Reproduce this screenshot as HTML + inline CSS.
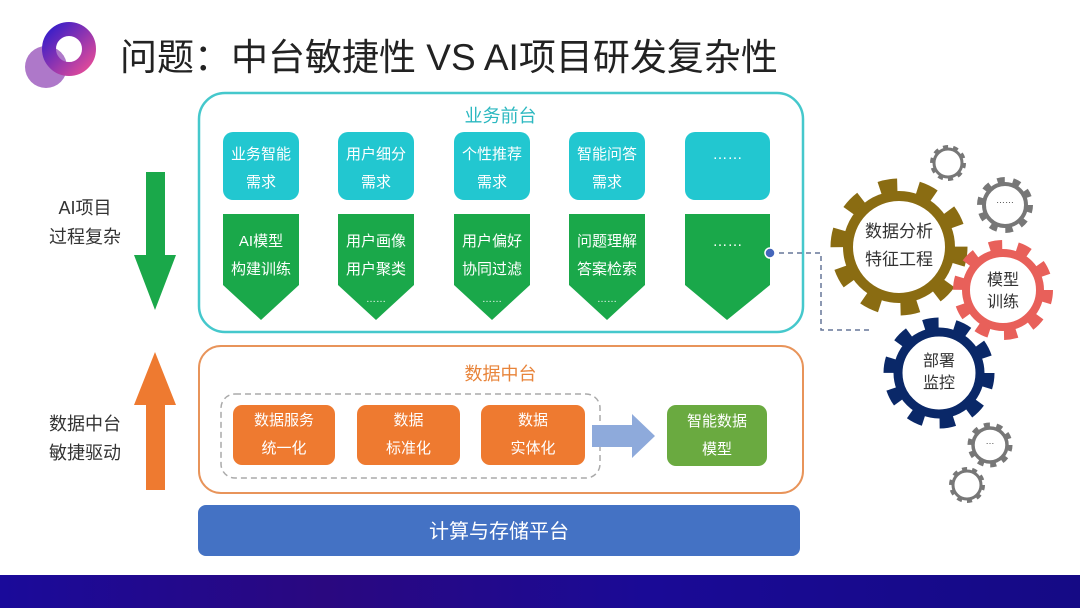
<!DOCTYPE html>
<html><head><meta charset="utf-8"><style>
body{margin:0;width:1080px;height:608px;overflow:hidden;background:#fff;font-family:"Liberation Sans","Noto Sans CJK SC",sans-serif;position:relative}
.a{position:absolute}
.t{position:absolute;text-align:center;color:#fff;font-size:15px;line-height:28px}
</style></head><body>
<svg class="a" style="left:0;top:0" width="1080" height="608">
<defs>
<linearGradient id="lg" x1="0" y1="0" x2="1" y2="1"><stop offset="0" stop-color="#3a1ec8"/><stop offset="1" stop-color="#e04a9a"/></linearGradient>
<linearGradient id="bb" x1="0" x2="1"><stop offset="0" stop-color="#1a0a9a"/><stop offset="0.3" stop-color="#2a0880"/><stop offset="0.6" stop-color="#1a0a96"/><stop offset="1" stop-color="#150a85"/></linearGradient>
</defs>
<circle cx="46" cy="67" r="21" fill="#a060c0" opacity="0.85"/>
<circle cx="69" cy="49" r="20" fill="none" stroke="url(#lg)" stroke-width="14"/>
<rect x="0" y="575" width="1080" height="33" fill="url(#bb)"/>
<rect x="199" y="93" width="604" height="239" rx="26" fill="#fff" stroke="#45c8cc" stroke-width="2.5"/>
<rect x="199" y="346" width="604" height="147" rx="22" fill="#fff" stroke="#e8945a" stroke-width="2"/>
<rect x="221" y="394" width="379" height="84" rx="14" fill="none" stroke="#aaa" stroke-width="1.5" stroke-dasharray="6,4"/>
<rect x="198" y="505" width="602" height="51" rx="8" fill="#4472c4"/>
<g fill="#22c7d0">
<rect x="223" y="132" width="76" height="68" rx="10"/><rect x="338" y="132" width="76" height="68" rx="10"/>
<rect x="454" y="132" width="76" height="68" rx="10"/><rect x="569" y="132" width="76" height="68" rx="10"/>
<rect x="685" y="132" width="85" height="68" rx="10"/></g>
<g fill="#1aa84a">
<polygon points="223,214 299,214 299,285 261,320 223,285"/>
<polygon points="338,214 414,214 414,285 376,320 338,285"/>
<polygon points="454,214 530,214 530,285 492,320 454,285"/>
<polygon points="569,214 645,214 645,285 607,320 569,285"/>
<polygon points="685,214 770,214 770,285 727,320 685,285"/></g>
<g fill="#ee7a30"><rect x="233" y="405" width="102" height="60" rx="9"/><rect x="357" y="405" width="103" height="60" rx="9"/><rect x="481" y="405" width="104" height="60" rx="9"/></g>
<rect x="667" y="405" width="100" height="61" rx="9" fill="#6aaa40"/>
<polygon points="592,425 632,425 632,414 655,436 632,458 632,447 592,447" fill="#8eaadb"/>
<polygon points="146,172 165,172 165,255 176,255 155,310 134,255 146,255" fill="#1aa84a"/>
<polygon points="155,352 176,405 165,405 165,490 146,490 146,405 134,405" fill="#ee7a30"/>
<polyline points="770,253 821,253 821,330 870,330" fill="none" stroke="#667799" stroke-width="1.5" stroke-dasharray="5,4"/>
<circle cx="770" cy="253" r="5" fill="#4466bb" stroke="#fff" stroke-width="1.5"/>
<g fill="#fff">
<g transform="translate(948,163)"><circle r="16" stroke="#777" stroke-width="4" fill="none" stroke-dasharray="5,5.05"/><circle r="14" stroke="#777" stroke-width="3"/></g>
<g transform="translate(1005,205)"><circle r="25" stroke="#777" stroke-width="6" fill="none" stroke-dasharray="7.5,8.2"/><circle r="21" stroke="#777" stroke-width="4"/></g>
<g transform="translate(990,445)"><circle r="20" stroke="#777" stroke-width="5" fill="none" stroke-dasharray="6,6.57"/><circle r="17" stroke="#777" stroke-width="3.5"/></g>
<g transform="translate(967,485)"><circle r="16" stroke="#777" stroke-width="4" fill="none" stroke-dasharray="5,5.05"/><circle r="14" stroke="#777" stroke-width="3"/></g>
<g transform="translate(899,247)"><circle r="62" stroke="#8a6c12" stroke-width="13" fill="none" stroke-dasharray="18,20.9"/><circle r="51" stroke="#8a6c12" stroke-width="10"/></g>
<g transform="translate(1003,290)"><circle r="45" stroke="#e8605a" stroke-width="10" fill="none" stroke-dasharray="13,15.27"/><circle r="37" stroke="#e8605a" stroke-width="8"/></g>
<g transform="translate(939,373)"><circle r="50" stroke="#0a2868" stroke-width="11" fill="none" stroke-dasharray="15,16.4"/><circle r="41" stroke="#0a2868" stroke-width="9"/></g>
</g>
</svg>
<div class="a" style="left:120px;top:27px;font-size:37px;color:#222;white-space:nowrap">问题：中台敏捷性 VS AI项目研发复杂性</div>
<div class="a" style="left:198px;top:102px;width:605px;text-align:center;color:#2bb8c0;font-size:18px">业务前台</div>
<div class="a" style="left:198px;top:360px;width:605px;text-align:center;color:#e8843a;font-size:18px">数据中台</div>
<div class="a" style="left:198px;top:515px;width:602px;text-align:center;color:#fff;font-size:20px">计算与存储平台</div>
<div class="a" style="left:30px;top:194px;width:110px;text-align:center;color:#333;font-size:18px;line-height:29px">AI项目<br>过程复杂</div>
<div class="a" style="left:30px;top:410px;width:110px;text-align:center;color:#333;font-size:18px;line-height:29px">数据中台<br>敏捷驱动</div>
<div class="t" style="left:223px;top:141px;width:76px">业务智能<br>需求</div>
<div class="t" style="left:338px;top:141px;width:76px">用户细分<br>需求</div>
<div class="t" style="left:454px;top:141px;width:76px">个性推荐<br>需求</div>
<div class="t" style="left:569px;top:141px;width:76px">智能问答<br>需求</div>
<div class="t" style="left:685px;top:141px;width:85px">……</div>
<div class="t" style="left:223px;top:228px;width:76px">AI模型<br>构建训练</div>
<div class="t" style="left:338px;top:228px;width:76px">用户画像<br>用户聚类<br><span style="font-size:10px;line-height:18px">……</span></div>
<div class="t" style="left:454px;top:228px;width:76px">用户偏好<br>协同过滤<br><span style="font-size:10px;line-height:18px">……</span></div>
<div class="t" style="left:569px;top:228px;width:76px">问题理解<br>答案检索<br><span style="font-size:10px;line-height:18px">……</span></div>
<div class="t" style="left:685px;top:228px;width:85px">……</div>
<div class="t" style="left:233px;top:407px;width:102px">数据服务<br>统一化</div>
<div class="t" style="left:357px;top:407px;width:103px">数据<br>标准化</div>
<div class="t" style="left:481px;top:407px;width:104px">数据<br>实体化</div>
<div class="t" style="left:667px;top:408px;width:100px">智能数据<br>模型</div>
<div class="a" style="left:849px;top:218px;width:100px;text-align:center;color:#333;font-size:17px;line-height:28px">数据分析<br>特征工程</div>
<div class="a" style="left:973px;top:270px;width:60px;text-align:center;color:#333;font-size:16px;line-height:22px">模型<br>训练</div>
<div class="a" style="left:909px;top:351px;width:60px;text-align:center;color:#333;font-size:16px;line-height:22px">部署<br>监控</div>
<div class="a" style="left:985px;top:195px;width:40px;text-align:center;color:#444;font-size:9px">……</div>
<div class="a" style="left:975px;top:436px;width:30px;text-align:center;color:#444;font-size:9px">…</div>
</body></html>
